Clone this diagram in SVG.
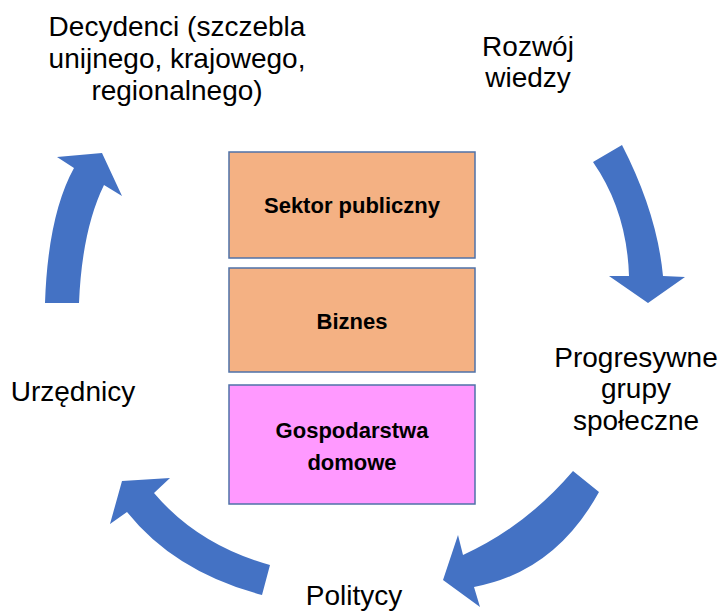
<svg xmlns="http://www.w3.org/2000/svg" width="721" height="611" viewBox="0 0 721 611">
<style>
.lbl{font-family:"Liberation Sans",Arial,sans-serif;font-size:28px;fill:#000;text-anchor:middle}
.box{stroke:#4F72A8;stroke-width:1.5}
.bt{font-family:"Liberation Sans",Arial,sans-serif;font-size:22px;font-weight:bold;fill:#000;text-anchor:middle}
.arr{fill:#4472C4}
</style>
<rect width="721" height="611" fill="#fff"/>
<g id="connectors">
<path class="arr" d="M45,303 Q48,215 74,168 L57,157 L102,153 L122,196 L104,185 Q82,230 79,303 Z"/>
<path class="arr" d="M593,162 Q627,211 629,276 L609,276 L648,303 L685,277 L663,276 Q657,213 622,145 Z"/>
<path class="arr" d="M573,471 Q525,527 463,555 L458,535 L443,580 L480,607 L474,587 Q555,572 599,492 Z"/>
<path class="arr" d="M270,565 Q198,545 154,493 L170,478 L122,481 L110,524 L127,512 Q175,572 262,595 Z"/>
</g>
<g id="decydenci">
<text class="lbl" x="177" y="36">Decydenci (szczebla</text>
<text class="lbl" x="177" y="68">unijnego, krajowego,</text>
<text class="lbl" x="177" y="100">regionalnego)</text>
</g>
<g id="rozwoj">
<text class="lbl" x="528" y="56">Rozwój</text>
<text class="lbl" x="528" y="87">wiedzy</text>
</g>
<g id="progresywne">
<text class="lbl" x="636" y="367">Progresywne</text>
<text class="lbl" x="636" y="398">grupy</text>
<text class="lbl" x="636" y="430">społeczne</text>
</g>
<g id="politycy">
<text class="lbl" x="354" y="605">Politycy</text>
</g>
<g id="urzednicy">
<text class="lbl" x="73" y="401">Urzędnicy</text>
</g>
<g id="sektor">
<rect class="box" x="229" y="152" width="246" height="106" fill="#F4B183"/>
<text class="bt" x="352" y="213">Sektor publiczny</text>
</g>
<g id="biznes">
<rect class="box" x="229" y="268" width="246" height="104" fill="#F4B183"/>
<text class="bt" x="352" y="329">Biznes</text>
</g>
<g id="gospodarstwa">
<rect class="box" x="229" y="385" width="246" height="119" fill="#FF99FF"/>
<text class="bt" x="352" y="438">Gospodarstwa</text>
<text class="bt" x="352" y="470">domowe</text>
</g>
</svg>
